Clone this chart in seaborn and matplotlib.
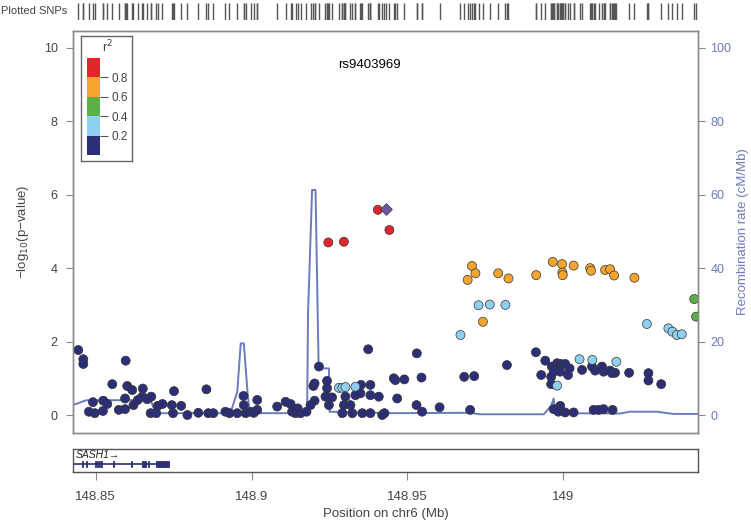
#!/usr/bin/env python3
# -*- coding: utf-8 -*-
"""
Regional association plot around rs9403969 (SASH1, chr6)
"""

# %% Import modules

import numpy as np
import pandas as pd
import matplotlib
matplotlib.use('Agg')
import matplotlib.pyplot as plt
import seaborn as sns

# %% Data

# SNPs with r2 < 0.2
navy_pos = [148.8444, 148.8460, 148.8460, 148.8596, 148.8553, 148.8601, 148.8617, 148.8651,
            148.8491, 148.8524, 148.8537, 148.8478, 148.8497, 148.8523, 148.8574, 148.8594,
            148.8594, 148.8621, 148.8635, 148.8649, 148.8665, 148.8678, 148.8676, 148.8694,
            148.8699, 148.8714, 148.8744, 148.8748, 148.8751, 148.8774, 148.8794, 148.8829,
            148.8855, 148.8861, 148.8877, 148.8916, 148.8929, 148.8954, 148.8974, 148.8975,
            148.8981, 148.8997, 148.9018, 148.9018, 148.9007, 148.9082, 148.9109, 148.9125,
            148.9130, 148.9141, 148.9148, 148.9157, 148.9176, 148.9198, 148.9202, 148.9202,
            148.9216, 148.9189, 148.9242, 148.9242, 148.9237, 148.9258, 148.9248, 148.9351,
            148.9381, 148.9374, 148.9301, 148.9333, 148.9349, 148.9381, 148.9408, 148.9296,
            148.9317, 148.9291, 148.9323, 148.9355, 148.9381, 148.9419, 148.9426, 148.9456,
            148.9461, 148.9490, 148.9467, 148.9530, 148.9545, 148.9529, 148.9547, 148.9603,
            148.9682, 148.9714, 148.9701, 148.9912, 148.9942, 148.9819, 148.9929, 148.9961,
            148.9963, 148.9980, 148.9992, 149.0006, 149.0020, 148.9969, 148.9990, 149.0015,
            148.9961, 149.0060, 149.0092, 149.0102, 149.0124, 149.0129, 149.0150, 149.0166,
            149.0156, 149.0211, 149.0273, 149.0273, 149.0314, 148.9969, 148.9990, 148.9984,
            149.0006, 149.0033, 149.0097, 149.0113, 149.0129, 149.0158]
navy_logp = [1.77, 1.52, 1.39, 1.48, 0.84, 0.79, 0.68, 0.72,
             0.35, 0.39, 0.30, 0.09, 0.05, 0.11, 0.14, 0.16,
             0.45, 0.27, 0.41, 0.50, 0.43, 0.50, 0.05, 0.05,
             0.25, 0.30, 0.27, 0.05, 0.65, 0.25, 0.00, 0.06,
             0.70, 0.05, 0.05, 0.09, 0.05, 0.05, 0.52, 0.27,
             0.05, 0.09, 0.41, 0.14, 0.06, 0.23, 0.36, 0.30,
             0.09, 0.05, 0.18, 0.05, 0.09, 0.79, 0.86, 0.39,
             1.32, 0.27, 0.93, 0.73, 0.50, 0.48, 0.27, 0.82,
             0.82, 1.79, 0.50, 0.54, 0.59, 0.54, 0.50, 0.27,
             0.27, 0.05, 0.05, 0.05, 0.05, 0.00, 0.05, 1.00,
             0.95, 0.97, 0.45, 1.68, 1.02, 0.27, 0.09, 0.21,
             1.04, 1.06, 0.14, 1.71, 1.48, 1.36, 1.09, 1.04,
             1.32, 1.41, 1.39, 1.39, 1.27, 1.18, 1.18, 1.09,
             0.84, 1.23, 1.32, 1.21, 1.32, 1.18, 1.21, 1.15,
             1.14, 1.15, 1.14, 0.94, 0.84, 0.16, 0.25, 0.09,
             0.07, 0.07, 0.14, 0.14, 0.16, 0.14]

# 0.2 <= r2 < 0.4
lblue_pos = [148.9280, 148.9291, 148.9301, 148.9333, 148.9670, 148.9728, 148.9764, 148.9814,
             149.0268, 149.0337, 149.0350, 149.0364, 149.0380, 148.9980, 149.0052, 149.0093,
             149.0170]
lblue_logp = [0.74, 0.74, 0.76, 0.77, 2.18, 2.99, 3.01, 3.00,
              2.48, 2.36, 2.27, 2.18, 2.20, 0.80, 1.52, 1.50,
              1.45]

# 0.4 <= r2 < 0.6
green_pos = [149.0420, 149.0426]
green_logp = [3.16, 2.68]

# 0.6 <= r2 < 0.8
orange_pos = [148.9707, 148.9718, 148.9693, 148.9791, 148.9742, 148.9824, 148.9913, 148.9966,
              148.9996, 148.9997, 148.9998, 149.0033, 149.0086, 149.0089, 149.0134, 149.0150,
              149.0163, 149.0228]
orange_logp = [4.06, 3.86, 3.68, 3.86, 2.54, 3.72, 3.81, 4.17,
               4.11, 3.88, 3.81, 4.07, 4.00, 3.93, 3.95, 3.97,
               3.80, 3.74]

# r2 >= 0.8
red_pos = [148.9246, 148.9296, 148.9405, 148.9442]
red_logp = [4.70, 4.72, 5.59, 5.04]

# Index SNP
lead_snp = 'rs9403969'
lead_pos = [148.9432]
lead_logp = [5.62]

# Recombination rate (cM/Mb)
recomb_pos = [148.8427, 148.8468, 148.8676, 148.8692, 148.8932, 148.8954, 148.8965, 148.8975,
              148.8987, 148.8994, 148.9178, 148.9181, 148.9194, 148.9205, 148.9212, 148.9215,
              148.9248, 148.9250, 148.9445, 148.9700, 148.9734, 148.9937, 148.9961, 148.9969,
              148.9974, 149.0182, 149.0214, 149.0300, 149.0352, 149.0432]
recomb_rate = [2.7, 4.0, 4.1, 0.5, 0.5, 6.3, 19.5, 19.5,
               6.0, 0.5, 0.5, 27.7, 61.3, 61.3, 27.7, 12.7,
               12.7, 0.9, 0.5, 0.6, 0.2, 0.2, 2.5, 4.5,
               0.5, 0.4, 0.9, 0.9, 0.3, 0.3]

# Gene track (SASH1, + strand)
gene_name = 'SASH1'
gene_start, gene_end = 148.8380, 148.8734
exon_start = [148.8455, 148.8470, 148.8498, 148.8505, 148.8511, 148.8517, 148.8555, 148.8614,
              148.8647, 148.8667, 148.8692]
exon_end = [148.8458, 148.8473, 148.8501, 148.8508, 148.8514, 148.8520, 148.8558, 148.8617,
            148.8660, 148.8670, 148.8734]

# Legend bins
r2_bins = [0.0, 0.2, 0.4, 0.6, 0.8, 1.0]
r2_labels = ['0.2', '0.4', '0.6', '0.8']

xticks = [148.85, 148.9, 148.95, 149.0]
xtick_labels = ['148.85', '148.9', '148.95', '149']

# %% Styling

sns.set_style('white')
plt.rcParams['font.family'] = ['Liberation Sans', 'DejaVu Sans']

ld_colors = ['#2C2F78', '#8FCFF1', '#5BB147', '#F5A52E', '#E3262B']
lead_color = '#6E58A6'
recomb_color = '#6A7BBB'
axis_grey = '#8a8a8a'
text_grey = '#444444'

xlim = (148.8427, 149.0432)
ylim = (-0.49, 10.46)

W, H = 751, 520

# %% Build a tidy frame for the SNPs

groups = [('navy', navy_pos, navy_logp), ('lblue', lblue_pos, lblue_logp),
          ('green', green_pos, green_logp), ('orange', orange_pos, orange_logp),
          ('red', red_pos, red_logp)]
snp_df = pd.concat([pd.DataFrame({'pos': p, 'logp': l, 'ld': g}) for g, p, l in groups],
                   ignore_index=True)
palette = dict(zip([g[0] for g in groups], ld_colors))

# %% Figure

fig = plt.figure(figsize=(W / 100, H / 100), dpi=100)

ax = fig.add_axes([73 / W, (H - 433) / H, 625 / W, 402 / H])
ax2 = ax.twinx()
ax_gene = fig.add_axes([73 / W, (H - 472) / H, 625 / W, 23 / H])
ax_rug = fig.add_axes([73 / W, (H - 20) / H, 625 / W, 17 / H])

# Recombination rate behind the points
sns.lineplot(x=recomb_pos, y=recomb_rate, ax=ax2, color=recomb_color, lw=1.4,
             sort=False, estimator=None)
ax.set_zorder(ax2.get_zorder() + 1)
ax.patch.set_visible(False)

# SNPs
sns.scatterplot(data=snp_df, x='pos', y='logp', hue='ld', palette=palette, ax=ax,
                s=42, edgecolor='#333333', linewidth=0.5, legend=False)
sns.scatterplot(x=lead_pos, y=lead_logp, ax=ax, marker='D', color=lead_color,
                s=36, edgecolor='#333333', linewidth=0.5, legend=False)

ax.set_xlim(xlim)
ax.set_ylim(ylim)
ax2.set_ylim(ylim[0] * 10, ylim[1] * 10)
ax.set_xticks([])
ax.set_yticks(range(0, 11, 2))
ax2.set_yticks(range(0, 101, 20))
ax.set_xlabel('')
ax.set_ylabel('\u2212log$_{10}$(p\u2212value)', color=text_grey, fontsize=9.5, labelpad=9)
ax2.set_ylabel('Recombination rate (cM/Mb)', color=recomb_color, fontsize=9.5, labelpad=4)
ax.tick_params(axis='y', length=5, width=0.8, color=axis_grey, labelcolor=text_grey,
               labelsize=9, pad=6, left=True)
ax2.tick_params(axis='y', length=5, width=0.8, color=axis_grey, labelcolor=recomb_color,
                labelsize=9, pad=4, right=True)
for a in (ax, ax2):
    for s in a.spines.values():
        s.set_color(axis_grey)
        s.set_linewidth(1)

ax.text(0.475, 0.915, lead_snp, transform=ax.transAxes, ha='center', va='center',
        fontsize=9.5, color='black')

# %% Legend box

leg_frame = fig.add_axes([81 / W, (H - 161) / H, 51 / W, 125 / H])
leg_frame.set_xticks([])
leg_frame.set_yticks([])
leg_frame.patch.set_alpha(0)
for s in leg_frame.spines.values():
    s.set_color('#666666')
    s.set_linewidth(1)

leg = fig.add_axes([87 / W, (H - 155) / H, 13 / W, 97 / H])
leg.bar(np.zeros(5), np.diff(r2_bins), bottom=r2_bins[:-1], color=ld_colors,
        width=1, align='edge', edgecolor='none')
leg.set_xlim(0, 1)
leg.set_ylim(0, 1)
leg.set_xticks([])
leg.yaxis.tick_right()
leg.set_yticks(r2_bins[1:-1])
leg.set_yticklabels(r2_labels)
leg.tick_params(axis='y', length=6, width=0.8, color='#555555', labelcolor=text_grey,
                labelsize=8.5, pad=2, right=True)
for s in leg.spines.values():
    s.set_visible(False)
fig.text(107 / W, 1 - 47 / H, 'r$^2$', ha='center', va='center', fontsize=9, color=text_grey)

# %% Gene track

exon_width = np.array(exon_end) - np.array(exon_start)
ax_gene.hlines(0.36, gene_start, gene_end, color=ld_colors[0], lw=1.2)
ax_gene.bar(exon_start, 0.26, bottom=0.23, width=exon_width, align='edge',
            color=ld_colors[0], edgecolor=ld_colors[0], linewidth=0.6)
ax_gene.text(148.8436, 0.74, gene_name + '\u2192', fontsize=7.5, style='italic',
             ha='left', va='center', color='#222222')
ax_gene.set_xlim(xlim)
ax_gene.set_ylim(0, 1)
ax_gene.set_yticks([])
ax_gene.set_xticks(xticks)
ax_gene.set_xticklabels(xtick_labels)
ax_gene.tick_params(axis='x', length=6, width=0.8, color=axis_grey, labelcolor=text_grey,
                    labelsize=9.5, pad=8, bottom=True)
ax_gene.set_xlabel('Position on chr6 (Mb)', color=text_grey, fontsize=9.5, labelpad=3)
for s in ax_gene.spines.values():
    s.set_color('#555555')
    s.set_linewidth(1)

# %% Plotted SNPs rug

all_pos = navy_pos + lblue_pos + green_pos + orange_pos + red_pos + lead_pos
sns.rugplot(x=all_pos, ax=ax_rug, height=1, color='#555555', lw=0.6)
ax_rug.set_xlim(xlim)
ax_rug.set_ylim(0, 1)
ax_rug.axis('off')
fig.text(1 / W, 1 - 11 / H, 'Plotted SNPs', ha='left', va='center', fontsize=8, color=text_grey)

fig.savefig('out.png', dpi=100)
